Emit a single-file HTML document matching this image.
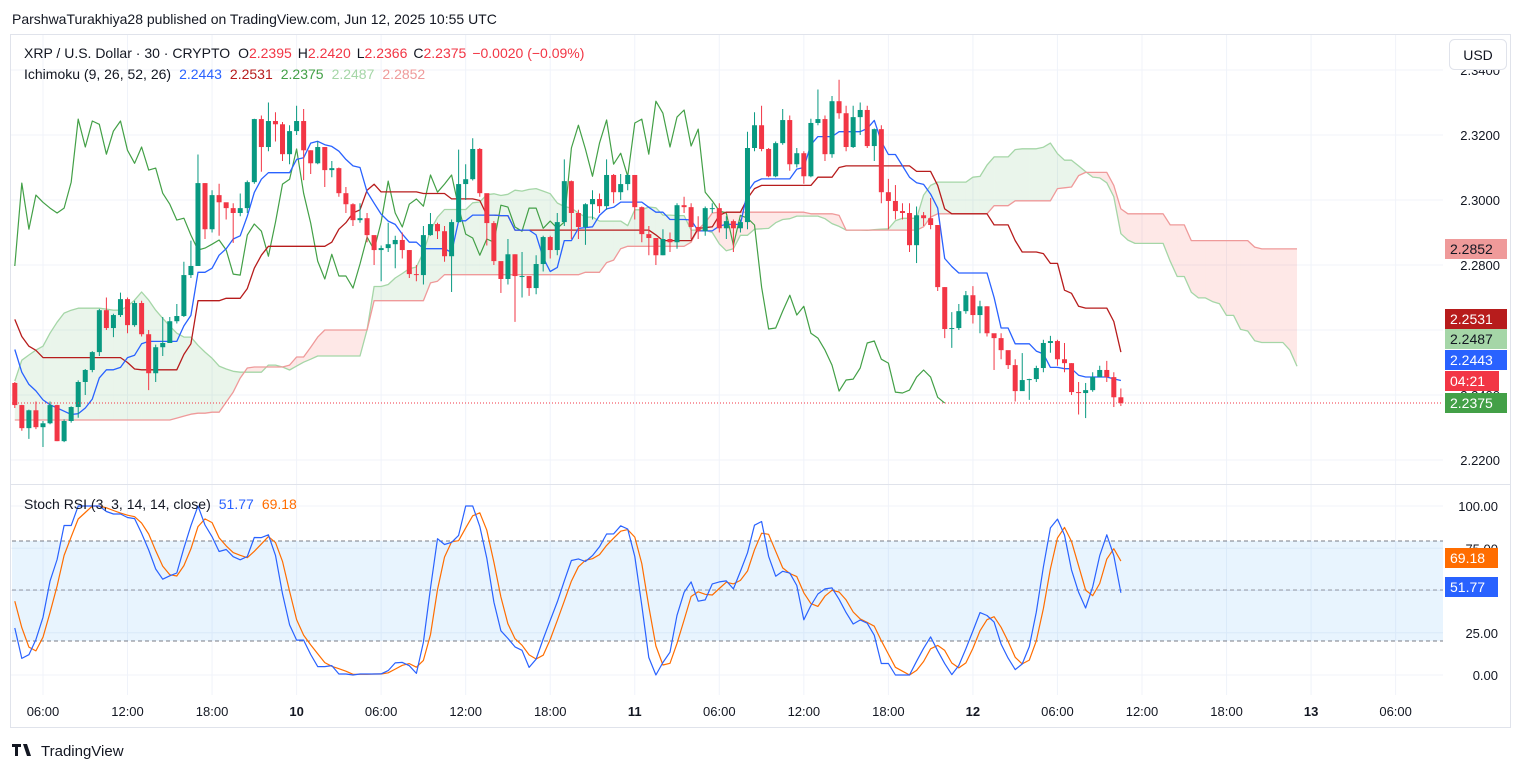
<!DOCTYPE html>
<html><head><meta charset="utf-8"><style>
body{margin:0;background:#fff;font-family:"Liberation Sans",sans-serif}
svg text{font-family:"Liberation Sans",sans-serif}
</style></head><body>
<svg id="c" width="1524" height="772" xmlns="http://www.w3.org/2000/svg">
<text x="12" y="24" font-size="14" fill="#131722">ParshwaTurakhiya28 published on TradingView.com, Jun 12, 2025 10:55 UTC</text>
<rect x="10.5" y="34.5" width="1500" height="693" fill="none" stroke="#e0e3eb"/>
<g id="grid"></g>
<rect x="12" y="541" width="1431" height="100" fill="#2196f3" fill-opacity="0.1"/>
<line x1="12" x2="1443" y1="541" y2="541" stroke="#787b86" stroke-dasharray="4,3"/>
<line x1="12" x2="1443" y1="590" y2="590" stroke="#9598a1" stroke-dasharray="4,3"/>
<line x1="12" x2="1443" y1="641" y2="641" stroke="#787b86" stroke-dasharray="4,3"/>
<line x1="11" x2="1510" y1="484.5" y2="484.5" stroke="#e0e3eb"/>
<g id="cloud"></g><g id="lines"></g><g id="candles"></g><g id="stoch"></g>
<line x1="12" x2="1443" y1="403" y2="403" stroke="#f23645" stroke-dasharray="1,2"/>
<g id="axes"></g>
<g font-size="14">
<text x="24" y="58" fill="#131722">XRP / U.S. Dollar · 30 · CRYPTO <tspan dx="4">O</tspan><tspan fill="#f23645">2.2395</tspan><tspan dx="6">H</tspan><tspan fill="#f23645">2.2420</tspan><tspan dx="6">L</tspan><tspan fill="#f23645">2.2366</tspan><tspan dx="6">C</tspan><tspan fill="#f23645">2.2375</tspan><tspan dx="6" fill="#f23645">−0.0020 (−0.09%)</tspan></text>
<text x="24" y="79" fill="#131722">Ichimoku (9, 26, 52, 26)<tspan dx="8" fill="#2962ff">2.2443</tspan><tspan dx="8" fill="#b71c1c">2.2531</tspan><tspan dx="8" fill="#43a047">2.2375</tspan><tspan dx="8" fill="#a5d6a7">2.2487</tspan><tspan dx="8" fill="#ef9a9a">2.2852</tspan></text>
<text x="24" y="509" fill="#131722">Stoch RSI (3, 3, 14, 14, close)<tspan dx="8" fill="#2962ff">51.77</tspan><tspan dx="8" fill="#ff6d00">69.18</tspan></text>
</g>
<g><rect x="1449.5" y="39.5" width="57" height="30" rx="5" fill="#fff" stroke="#e0e3eb"/><text x="1478" y="60" font-size="14" text-anchor="middle" fill="#131722">USD</text></g>
<g><path d="M12 744h9v3h-3v9h-3v-9h-3z M23 744h4l4 12h-4z" fill="#131722"/><text x="41" y="756" font-size="15" fill="#131722">TradingView</text></g>
</svg>
<script>
const preCloses=[2.2900,2.2870,2.2840,2.2800,2.2780,2.2740,2.2700,2.2660,2.2630,2.2600,2.2570,2.2550,2.2600,2.2650,2.2700,2.2740,2.2760,2.2720,2.2650,2.2600,2.2560,2.2520,2.2500,2.2470,2.2450,2.2437];
const preHighs=[2.2930,2.2905,2.2870,2.2835,2.2810,2.2775,2.2735,2.2690,2.2660,2.2630,2.2600,2.2585,2.2630,2.2680,2.2730,2.2770,2.2790,2.2760,2.2720,2.2650,2.2600,2.2560,2.2530,2.2500,2.2480,2.2460];
const preLows=[2.2860,2.2840,2.2810,2.2770,2.2750,2.2710,2.2670,2.2630,2.2600,2.2570,2.2540,2.2520,2.2540,2.2590,2.2640,2.2700,2.2710,2.2690,2.2630,2.2580,2.2530,2.2490,2.2470,2.2440,2.2420,2.2410];
const firstOpen=2.2437;
const closes=[2.2369,2.2298,2.2353,2.2301,2.2313,2.2369,2.2258,2.2320,2.2363,2.2440,2.2477,2.2532,2.2661,2.2606,2.2646,2.2695,2.2615,2.2683,2.2587,2.2467,2.2547,2.2560,2.2627,2.2643,2.2769,2.2797,2.3052,2.2910,2.3015,2.2993,2.2975,2.2960,2.2975,2.3055,2.3249,2.3163,2.3243,2.3233,2.3141,2.3212,2.3243,2.3153,2.3113,2.3163,2.3092,2.3098,2.3021,2.2987,2.2938,2.2944,2.2892,2.2846,2.2852,2.2864,2.2877,2.2846,2.2772,2.2769,2.2892,2.2926,2.2904,2.2827,2.2932,2.3049,2.3064,2.3157,2.3021,2.2929,2.2812,2.2757,2.2833,2.2766,2.2766,2.2729,2.2803,2.2886,2.2846,2.2932,2.3058,2.2960,2.2917,2.2987,2.3003,2.2981,2.3077,2.3024,2.3049,2.3077,2.2978,2.2895,2.2883,2.2830,2.2880,2.2870,2.2984,2.2978,2.2917,2.2904,2.2975,2.2975,2.2913,2.2935,2.2913,2.2932,2.3160,2.3230,2.3157,2.3073,2.3175,2.3246,2.3110,2.3144,2.3073,2.3237,2.3249,2.3141,2.3304,2.3267,2.3163,2.3255,2.3277,2.3166,2.3218,2.3024,2.2997,2.2966,2.2960,2.2861,2.2953,2.2944,2.2923,2.2732,2.2603,2.2606,2.2658,2.2707,2.2646,2.2673,2.2590,2.2575,2.2538,2.2492,2.2412,2.2446,2.2449,2.2483,2.2560,2.2566,2.2510,2.2498,2.2409,2.2406,2.2415,2.2455,2.2477,2.2455,2.2393,2.2375];
const highs=[2.2440,2.2370,2.2355,2.2380,2.2320,2.2380,2.2370,2.2325,2.2365,2.2445,2.2480,2.2535,2.2665,2.2700,2.2650,2.2715,2.2700,2.2690,2.2690,2.2600,2.2555,2.2640,2.2640,2.2680,2.2810,2.2875,2.3140,2.3052,2.3030,2.3050,2.2990,2.2990,2.3020,2.3060,2.3250,2.3260,2.3300,2.3270,2.3240,2.3230,2.3290,2.3280,2.3153,2.3180,2.3163,2.3120,2.3100,2.3040,2.2990,2.2990,2.2960,2.2880,2.2860,2.2930,2.2890,2.2900,2.2846,2.2800,2.2920,2.2960,2.2930,2.2920,2.2940,2.3155,2.3110,2.3190,2.3160,2.3020,2.2935,2.2810,2.2880,2.2833,2.2840,2.2766,2.2830,2.2890,2.2890,2.2960,2.3125,2.3060,2.2970,2.2990,2.3030,2.3020,2.3125,2.3080,2.3080,2.3080,2.3077,2.2980,2.2920,2.2883,2.2910,2.2900,2.2990,2.3010,2.2990,2.2950,2.2980,2.2990,2.2990,2.2950,2.2940,2.2940,2.3210,2.3270,2.3290,2.3160,2.3180,2.3280,2.3260,2.3160,2.3150,2.3250,2.3340,2.3260,2.3320,2.3370,2.3290,2.3290,2.3300,2.3290,2.3220,2.3230,2.3065,2.3046,2.2990,2.2990,2.2980,2.2963,2.3006,2.2923,2.2732,2.2655,2.2680,2.2720,2.2735,2.2690,2.2673,2.2585,2.2590,2.2500,2.2510,2.2529,2.2450,2.2490,2.2570,2.2582,2.2570,2.2560,2.2498,2.2440,2.2437,2.2470,2.2490,2.2505,2.2470,2.2420];
const lows=[2.2360,2.2290,2.2265,2.2295,2.2240,2.2310,2.2258,2.2255,2.2315,2.2330,2.2400,2.2470,2.2520,2.2600,2.2578,2.2640,2.2590,2.2610,2.2580,2.2415,2.2440,2.2520,2.2560,2.2620,2.2640,2.2760,2.2797,2.2880,2.2900,2.2890,2.2940,2.2868,2.2950,2.2960,2.3050,2.3087,2.3150,2.3180,2.3120,2.3110,2.3200,2.3061,2.3080,2.3110,2.3040,2.3070,2.3010,2.2960,2.2920,2.2930,2.2870,2.2800,2.2750,2.2840,2.2790,2.2820,2.2760,2.2750,2.2740,2.2890,2.2880,2.2810,2.2717,2.2930,2.3000,2.3060,2.3010,2.2860,2.2800,2.2714,2.2740,2.2625,2.2700,2.2705,2.2710,2.2780,2.2820,2.2830,2.2920,2.2880,2.2880,2.2862,2.2940,2.2960,2.2970,2.2990,2.3000,2.3030,2.2940,2.2870,2.2830,2.2800,2.2830,2.2840,2.2850,2.2960,2.2880,2.2880,2.2890,2.2960,2.2900,2.2880,2.2840,2.2900,2.2910,2.3150,2.3150,2.3070,2.3070,2.3170,2.3090,2.3100,2.3050,2.3070,2.3230,2.3120,2.3130,2.3250,2.3150,2.3160,2.3200,2.3160,2.3120,2.2990,2.2910,2.2940,2.2940,2.2840,2.2806,2.2920,2.2910,2.2720,2.2575,2.2545,2.2600,2.2650,2.2620,2.2590,2.2580,2.2477,2.2510,2.2480,2.2380,2.2420,2.2385,2.2440,2.2470,2.2530,2.2490,2.2470,2.2400,2.2340,2.2329,2.2410,2.2460,2.2440,2.2363,2.2366];
const spanAPre=[2.2443,2.2507,2.2523,2.2538,2.2550,2.2590,2.2624,2.2652,2.2661,2.2667,2.2667,2.2667,2.2667,2.2664,2.2661,2.2661,2.2673,2.2692,2.2717,2.2692,2.2661,2.2636,2.2612,2.2590,2.2578,2.2578,2.2553,2.2532,2.2513,2.2489,2.2480,2.2473,2.2470,2.2470,2.2470,2.2470,2.2492,2.2492,2.2486,2.2477,2.2489,2.2501,2.2510,2.2520,2.2520,2.2520,2.2520,2.2520,2.2520,2.2520];
const spanBPre=[2.2323,2.2323,2.2323,2.2323,2.2323,2.2323,2.2323,2.2323,2.2323,2.2323,2.2323,2.2323,2.2323,2.2323,2.2323,2.2323,2.2323,2.2323,2.2323,2.2323,2.2323,2.2323,2.2323,2.2329,2.2335,2.2341,2.2344,2.2344,2.2347,2.2347,2.2378,2.2409,2.2452,2.2483,2.2486,2.2486,2.2486,2.2486,2.2486,2.2492,2.2517,2.2517,2.2547,2.2578,2.2600,2.2600,2.2600,2.2600,2.2600,2.2600,2.2600];
const timeLabels=["06:00","12:00","18:00","10","06:00","12:00","18:00","11","06:00","12:00","18:00","12","06:00","12:00","18:00","13","06:00"];
const timeBars=[4,16,28,40,52,64,76,88,100,112,124,136,148,160,172,184,196];
const priceTicks=[2.22,2.24,2.26,2.28,2.30,2.32,2.34];
const stochTicks=[0,25,75,100];

const NS="http://www.w3.org/2000/svg";
const xOf=i=>14.8+i*7.045;
const yP=p=>135+(2.32-p)*3250;
const yS=v=>675-v*1.69;
function mk(parent,tag,attrs){const e=document.createElementNS(NS,tag);for(const k in attrs)e.setAttribute(k,attrs[k]);document.getElementById(parent).appendChild(e);return e;}

priceTicks.forEach(p=>{const e=mk('grid','line',{x1:11,x2:1443,y1:yP(p),y2:yP(p),stroke:'#f0f3fa'});

});
[0,25,50,75,100].forEach(v=>{const e=mk('grid','line',{x1:11,x2:1443,y1:yS(v),y2:yS(v),stroke:'#f0f3fa'});

});
timeBars.forEach(b=>{const e=mk('grid','line',{x1:xOf(b),x2:xOf(b),y1:35,y2:695,stroke:'#f0f3fa'});

});

const N=closes.length, P=preCloses.length;
const H=preHighs.concat(highs), L=preLows.concat(lows), C=preCloses.concat(closes);
function mid(end,len){let hi=-1e9,lo=1e9;for(let k=Math.max(0,end-len+1);k<=end;k++){hi=Math.max(hi,H[k]);lo=Math.min(lo,L[k]);}return (hi+lo)/2;}
const tenkan=[],kijun=[],chikou=[],spanA=[],spanB=[];
for(let i=0;i<N;i++){tenkan.push(mid(P+i,9));kijun.push(mid(P+i,26));}
for(let i=0;i<N+25;i++){
  const j=i-25;
  spanA.push(i<spanAPre.length?spanAPre[i]:(tenkan[j]+kijun[j])/2);
  spanB.push(i<spanBPre.length?spanBPre[i]:mid(P+j,52));
}
for(let i=0;i<N-25;i++)chikou.push(closes[i+25]);

for(let i=0;i<spanA.length-1;i++){
  const up=(spanA[i]+spanA[i+1])>=(spanB[i]+spanB[i+1]);
  const e=mk('cloud','polygon',{points:`${xOf(i)},${yP(spanA[i])} ${xOf(i+1)},${yP(spanA[i+1])} ${xOf(i+1)},${yP(spanB[i+1])} ${xOf(i)},${yP(spanB[i])}`,fill:up?'rgba(67,160,71,0.11)':'rgba(244,67,54,0.12)'});
  
  
}
function line(arr,color,name,w,group,yf){const pts=arr.map((v,i)=>`${xOf(i).toFixed(1)},${yf(v).toFixed(1)}`).join(' ');
const e=mk(group,'polyline',{points:pts,fill:'none',stroke:color,'stroke-width':w,'stroke-linejoin':'round'});

}
line(spanA,'#a5d6a7','leading-span-a',1.3,'lines',yP);
line(spanB,'#ef9a9a','leading-span-b',1.3,'lines',yP);
line(chikou,'#43a047','lagging-span',1.2,'lines',yP);
line(kijun,'#b71c1c','base-line',1.3,'lines',yP);
line(tenkan,'#2962ff','conversion-line',1.3,'lines',yP);

for(let i=0;i<N;i++){
  const o=i?closes[i-1]:firstOpen,c=closes[i],col=c>=o?'#089981':'#f23645',x=xOf(i);
  const w=mk('candles','line',{x1:x,x2:x,y1:yP(highs[i]),y2:yP(lows[i]),stroke:col,'stroke-width':1});
  
  
  const t=Math.min(yP(o),yP(c)),h=Math.max(1,Math.abs(yP(o)-yP(c)));
  const b=mk('candles','rect',{x:x-2.5,y:t,width:5,height:h,fill:col});
  
  
}

const rsi=[];let ag=0,al=0;
for(let k=1;k<C.length;k++){const d=C[k]-C[k-1],g=Math.max(d,0),l=Math.max(-d,0);
 if(k<=14){ag+=g/14;al+=l/14;}else{ag=(ag*13+g)/14;al=(al*13+l)/14;}
 rsi[k]=al===0?100:100-100/(1+ag/al);}
const st=[];for(let k=1;k<C.length;k++){let mn=1e9,mx=-1e9;for(let m=Math.max(1,k-13);m<=k;m++){mn=Math.min(mn,rsi[m]);mx=Math.max(mx,rsi[m]);}st[k]=mx>mn?(rsi[k]-mn)/(mx-mn)*100:50;}
const K=[],D=[];for(let k=1;k<C.length;k++){let s=0,n=0;for(let m=Math.max(1,k-2);m<=k;m++){s+=st[m];n++;}K[k]=s/n;}
for(let k=1;k<C.length;k++){let s=0,n=0;for(let m=Math.max(1,k-2);m<=k;m++){s+=K[m];n++;}D[k]=s/n;}
const kVis=[],dVis=[];for(let i=0;i<N;i++){kVis.push(K[P+i]);dVis.push(D[P+i]);}
line(dVis,'#ff6d00','stoch-d-line',1.2,'stoch',yS);
line(kVis,'#2962ff','stoch-k-line',1.2,'stoch',yS);

function txt(x,y,s,attrs,name){const e=mk('axes','text',Object.assign({x:x,y:y,'font-size':13,fill:'#131722'},attrs||{}));e.textContent=s;

return e;}
priceTicks.forEach(p=>txt(1500,yP(p)+5,p.toFixed(4),{'text-anchor':'end'},'price-tick-label'));
stochTicks.forEach(v=>txt(1498,yS(v)+5,v.toFixed(2),{'text-anchor':'end'},'stoch-tick-label'));
timeLabels.forEach((s,i)=>txt(xOf(timeBars[i]),716,s,{'text-anchor':'middle','font-weight':/:/.test(s)?'normal':'bold'},'time-tick-label'));
function badge(y,s,bg,fg,name,w){const r=mk('axes','rect',{x:1445,y:y-10,width:w||62,height:20,fill:bg});


txt(1450,y+5,s,{fill:fg,'font-size':14},name);}
badge(249,'2.2852','#ef9a9a','#131722','span-b-price-badge');
badge(319,'2.2531','#b71c1c','#fff','base-line-badge');
badge(339,'2.2487','#a5d6a7','#131722','span-a-price-badge');
badge(360,'2.2443','#2962ff','#fff','conversion-badge');
badge(381,'04:21','#f23645','#fff','countdown-badge',54);
badge(403,'2.2375','#43a047','#fff','last-price-badge');
badge(558,'69.18','#ff6d00','#fff','stoch-d-badge',53);
badge(587,'51.77','#2962ff','#fff','stoch-k-badge',53);
</script>
</body></html>
